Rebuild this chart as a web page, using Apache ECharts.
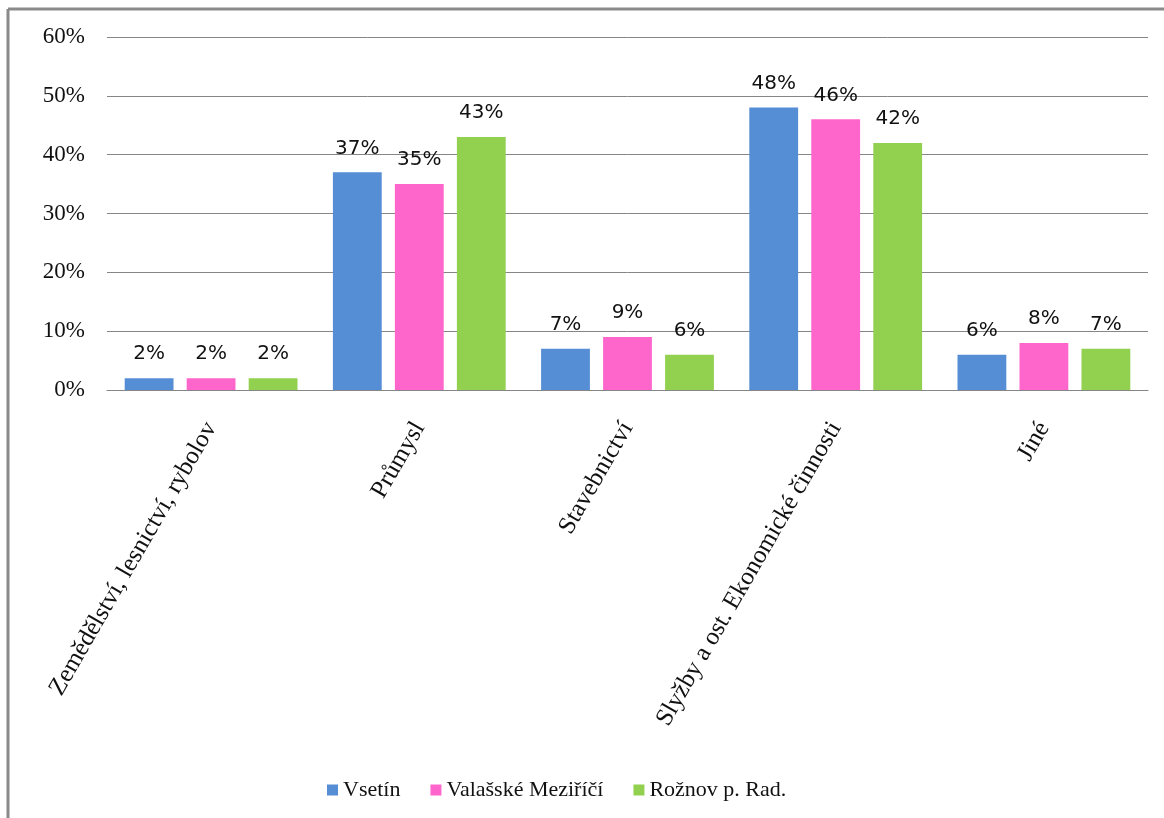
<!DOCTYPE html>
<html><head><meta charset="utf-8">
<script src="https://cdn.jsdelivr.net/npm/echarts@6/dist/echarts.min.js"></script>
<style>html,body{margin:0;padding:0;background:#fff}#c{width:1164px;height:818px}</style>
</head><body><div id="c"></div>
<script>
const categories = ['Zemědělství, lesnictví, rybolov', 'Průmysl', 'Stavebnictví', 'Slyžby a ost. Ekonomické činnosti', 'Jiné'];
const seriesNames = ['Vsetín', 'Valašské Meziříčí', 'Rožnov p. Rad.'];
const vsetin = [2, 37, 7, 48, 6];
const valMez = [2, 35, 9, 46, 8];
const roznov = [2, 43, 6, 42, 7];
const yTicks = [0, 10, 20, 30, 40, 50, 60];
const colors = ['#558ED5', '#FF66CC', '#92D050'];

const serif = '"Liberation Serif", "DejaVu Serif", serif';
const sans = '"DejaVu Sans", Verdana, sans-serif';

const chart = echarts.init(document.getElementById('c'));
const mk = (name, data, color) => ({
  name, type: 'bar', data,
  itemStyle: { color },
  barGap: '27%', barCategoryGap: '17%',
  label: { show: true, position: 'top', distance: 14, formatter: '{c}%',
           fontFamily: sans, fontSize: 20, color: '#111' }
});
chart.setOption({
  animation: false,
  graphic: [
    { type: 'line', shape: { x1: 8, y1: 9, x2: 1164, y2: 9 }, style: { stroke: '#8a8a8a', lineWidth: 3 } },
    { type: 'line', shape: { x1: 8, y1: 9, x2: 8, y2: 818 }, style: { stroke: '#8a8a8a', lineWidth: 3 } }
  ],
  legend: {
    bottom: 12, left: 322, itemGap: 30, itemWidth: 11, itemHeight: 11, icon: 'rect',
    textStyle: { fontFamily: serif, fontSize: 22, color: '#111' },
    data: seriesNames
  },
  grid: { left: 107, right: 16, top: 37, bottom: 428, containLabel: false },
  xAxis: {
    type: 'category', data: categories,
    axisLine: { lineStyle: { color: '#868686' } },
    axisTick: { show: false },
    axisLabel: { rotate: 60, margin: 34, interval: 0, fontFamily: serif, fontSize: 25, color: '#111' }
  },
  yAxis: {
    type: 'value', min: yTicks[0], max: yTicks[yTicks.length - 1], interval: 10,
    axisLine: { show: false }, axisTick: { show: false },
    splitLine: { lineStyle: { color: '#868686', width: 1 } },
    axisLabel: { formatter: '{value}%', margin: 22, fontFamily: serif, fontSize: 23, color: '#111' }
  },
  series: [mk(seriesNames[0], vsetin, colors[0]), mk(seriesNames[1], valMez, colors[1]), mk(seriesNames[2], roznov, colors[2])]
});
</script></body></html>
